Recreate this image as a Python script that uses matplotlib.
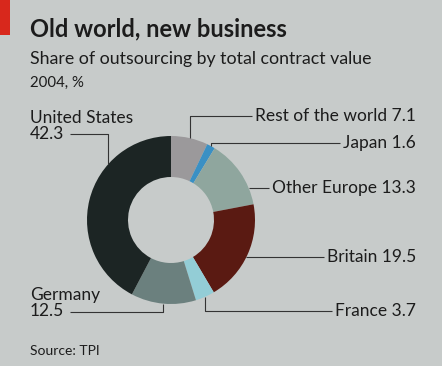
import matplotlib
import numpy as np

matplotlib.use("AGG")

import matplotlib.pyplot as plt  # isort:skip
from matplotlib.patches import Rectangle  # isort:skip

W, H = 442, 366

# Share of outsourcing by total contract value, 2004, %
countries = [
    "Rest of the world",
    "Japan",
    "Other Europe",
    "Britain",
    "France",
    "Germany",
    "United States",
]
shares = [7.1, 1.6, 13.3, 19.5, 3.7, 12.5, 42.3]

colours = [
    "#9b999b",
    "#3a90c4",
    "#8fa69e",
    "#5a1a12",
    "#93cdd6",
    "#6b807e",
    "#1c2524",
]

BG = "#c7cbca"
INK = "#1c1c1c"
FONT = "Lato"

# label layout, in pixels from the top-left corner
# (text x, text y, alignment, leader kind)
label_layout = {
    "Rest of the world": (416, 116, "right", "up"),
    "Japan": (416, 143, "right", "up"),
    "Other Europe": (416, 188, "right", "flat"),
    "Britain": (416, 257, "right", "flat"),
    "France": (416, 311, "right", "down"),
    "Germany": (30, 303, "left", "down"),
    "United States": (30, 126, "left", "fixed"),
}

CX, CY = 171, 220
R_OUT, R_IN = 84, 43


def py(y):
    # convert pixels-from-top to data y
    return H - y


def main():
    fig = plt.figure(figsize=(W / 100, H / 100), dpi=100, facecolor=BG)
    ax = fig.add_axes([0, 0, 1, 1])
    ax.set_xlim(0, W)
    ax.set_ylim(0, H)
    ax.axis("off")

    ax.add_patch(Rectangle((0, py(35)), 10, 35, color="#d8281c", lw=0))

    fig.text(30 / W, 1 - 29 / H, "Old world, new business", fontsize=17,
             fontweight="bold", family=FONT, color=INK, va="center")
    fig.text(30 / W, 1 - 59 / H, "Share of outsourcing by total contract value",
             fontsize=12.8, family=FONT, color=INK, va="center")
    fig.text(30 / W, 1 - 83 / H, "2004, %", fontsize=10.8, family=FONT,
             color=INK, va="center")
    fig.text(30 / W, 1 - 351 / H, "Source: TPI", fontsize=10, family=FONT,
             color=INK, va="center")

    wedges, _ = ax.pie(
        shares,
        colors=colours,
        startangle=90,
        counterclock=False,
        center=(CX, py(CY)),
        radius=R_OUT,
        frame=True,
        wedgeprops=dict(width=R_OUT - R_IN, linewidth=0),
    )
    ax.set_xlim(0, W)
    ax.set_ylim(0, H)
    ax.axis("off")

    fig.canvas.draw()
    renderer = fig.canvas.get_renderer()
    inv = ax.transData.inverted()

    line_kw = dict(color="#333333", lw=0.8, solid_capstyle="butt")

    for name, value, w in zip(countries, shares, wedges):
        tx, ty, ha, kind = label_layout[name]
        if ha == "right":
            label = f"{name} {value}"
        else:
            label = f"{name}\n{value}"
        t = ax.text(tx, py(ty), label, ha=ha, va="center", fontsize=12.5,
                    family=FONT, color=INK, linespacing=1.05)
        bb = t.get_window_extent(renderer)
        (x0, _), (x1, _) = inv.transform([[bb.x0, bb.y0], [bb.x1, bb.y1]])

        mid = np.deg2rad((w.theta1 + w.theta2) / 2)
        ex = CX + R_OUT * np.cos(mid)
        ey = py(CY) + R_OUT * np.sin(mid)

        if kind == "flat":
            ly = py(ty)
            sx = CX + np.sqrt(R_OUT ** 2 - (ly - py(CY)) ** 2)
            ax.plot([sx, x0 - 3], [ly, ly], **line_kw)
        elif kind == "up" or (kind == "down" and ha == "right"):
            ly = py(ty)
            ax.plot([ex, ex, x0 - 3], [ey, ly, ly], **line_kw)
        elif kind == "down":
            ly = py(ty + 9)
            # starts just after the value line
            ax.plot([ex, ex, x0 + 40], [ey, ly, ly], **line_kw)
        else:
            lx = 108
            ly = py(ty + 8)
            sy = py(CY) + np.sqrt(R_OUT ** 2 - (lx - CX) ** 2)
            ax.plot([lx, lx, x0 + 40], [sy, ly, ly], **line_kw)

    fig.savefig("out.png", dpi=100, facecolor=BG)
    plt.close(fig)


main()
